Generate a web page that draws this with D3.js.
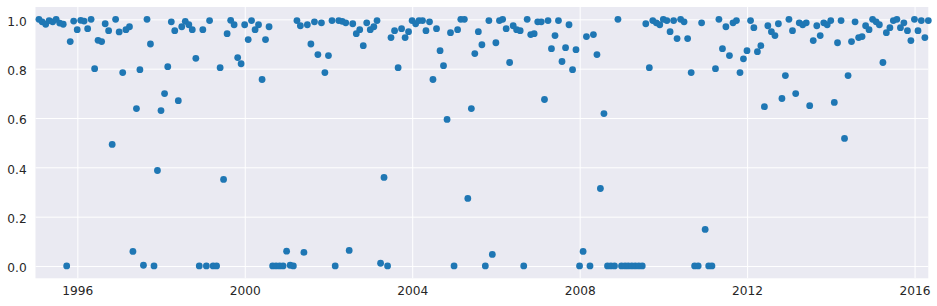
<!DOCTYPE html>
<html>
<head>
<meta charset="utf-8">
<script src="https://cdn.jsdelivr.net/npm/d3@7"></script>
<style>
  body { margin: 0; background: #fff; }
  text { font-family: "DejaVu Sans", sans-serif; font-size: 12.2px; fill: #262626; }
</style>
</head>
<body>
<script>
// monthly values, Jan 1995 .. Apr 2016 (month-end)
var values = [
  1.0, 0.99, 0.98, 0.995, 0.99, 1.0, 0.985, 0.98, 0.0, 0.91,
  0.993, 0.958, 0.996, 0.993, 0.962, 1.0, 0.80, 0.915, 0.91, 0.982,
  0.954, 0.493, 1.0, 0.949, 0.784, 0.958, 0.97, 0.059, 0.638, 0.796,
  0.003, 1.0, 0.90, 0.0, 0.387, 0.63, 0.699, 0.808, 0.99, 0.954,
  0.67, 0.97, 0.992, 0.978, 0.958, 0.842, 0.0, 0.958, 0.0, 0.995,
  0.0, 0.0, 0.804, 0.351, 0.942, 0.996, 0.978, 0.845, 0.82, 0.978,
  0.918, 0.995, 0.958, 0.978, 0.756, 0.918, 0.97, 0.0, 0.0, 0.0,
  0.0, 0.06, 0.003, 0.0, 0.995, 0.974, 0.055, 0.978, 0.90, 0.99,
  0.857, 0.986, 0.784, 0.853, 0.995, 0.0, 0.995, 0.992, 0.986, 0.063,
  0.982, 0.942, 0.958, 0.893, 0.986, 0.958, 0.97, 0.995, 0.011, 0.359,
  0.0, 0.926, 0.954, 0.804, 0.962, 0.926, 0.95, 0.995, 0.982, 0.995,
  0.995, 0.954, 0.99, 0.756, 0.962, 0.873, 0.812, 0.594, 0.946, 0.0,
  0.958, 1.0, 1.0, 0.274, 0.638, 0.861, 0.95, 0.897, 0.0, 0.995,
  0.047, 0.905, 0.995, 1.0, 0.962, 0.825, 0.974, 0.958, 0.954, 0.0,
  1.0, 0.938, 0.942, 0.99, 0.99, 0.675, 0.995, 0.881, 0.934, 0.995,
  0.829, 0.885, 0.978, 0.796, 0.877, 0.0, 0.059, 0.93, 0.0, 0.938,
  0.857, 0.314, 0.618, 0.0, 0.0, 0.0, 1.0, 0.0, 0.0, 0.0,
  0.0, 0.0, 0.0, 0.0, 0.982, 0.804, 0.995, 0.986, 0.978, 1.0,
  0.995, 0.95, 0.995, 0.922, 1.0, 0.99, 0.922, 0.784, 0.0, 0.0,
  0.986, 0.148, 0.0, 0.0, 0.80, 1.0, 0.881, 0.97, 0.853, 0.986,
  0.995, 0.784, 0.84, 0.873, 0.995, 0.966, 0.869, 0.893, 0.646, 0.974,
  0.95, 0.934, 0.982, 0.679, 0.772, 1.0, 0.954, 0.699, 0.986, 0.978,
  0.986, 0.65, 0.914, 0.974, 0.934, 0.986, 0.978, 0.995, 0.663, 0.905,
  0.995, 0.517, 0.772, 0.91, 0.99, 0.926, 0.93, 0.974, 0.958, 1.0,
  0.99, 0.978, 0.825, 0.946, 0.966, 0.995, 1.0, 0.966, 0.986, 0.954,
  0.914, 1.0, 0.954, 0.995, 0.926, 0.995
];

// month-end dates for each value
var dates = d3.utcMonth.range(new Date(Date.UTC(1995, 1, 1)), new Date(Date.UTC(2016, 5, 1)))
  .map(function(d){ return d3.utcDay.offset(d, -1) });

var xDomain = [new Date(Date.UTC(1995, 0, 1)), new Date(Date.UTC(2016, 3, 30))];
var yTicks = [0, 0.2, 0.4, 0.6, 0.8, 1.0];

var width = 937,
    height = 306,
    margin = {top: 7, right: 8.7, bottom: 27.7, left: 35.5};

var w = width - margin.left - margin.right,
    h = height - margin.top - margin.bottom;

var x = d3.scaleUtc().domain(xDomain).range([0, w]);
var y = d3.scaleLinear().domain([-0.05, 1.05]).range([h, 0]);

var svg = d3.select("body").append("svg")
    .attr("width", width)
    .attr("height", height)
  .append("g")
    .attr("transform", "translate(" + margin.left + "," + margin.top + ")");

svg.append("rect")
  .attr("width", w)
  .attr("height", h)
  .attr("fill", "#eaeaf2");

// grid + labels via axes
var xAxis = svg.append("g")
  .attr("transform", "translate(0," + h + ")")
  .call(d3.axisBottom(x).ticks(d3.utcYear.every(4)).tickFormat(d3.utcFormat("%Y")).tickSize(-h).tickPadding(17.4 - 9));

var yAxis = svg.append("g")
  .call(d3.axisLeft(y).tickValues(yTicks).tickFormat(d3.format(".1f")).tickSize(-w).tickPadding(8.8));

[xAxis, yAxis].forEach(function(a){
  a.select(".domain").remove();
  a.selectAll(".tick line").attr("stroke", "#fff").attr("stroke-width", 1);
  a.selectAll(".tick text").attr("fill", "#262626")
    .style("font-family", "DejaVu Sans").style("font-size", "12.2px");
});
yAxis.selectAll(".tick text").attr("dy", "6px");
xAxis.selectAll(".tick text").attr("dy", "0.71em");

svg.append("g")
  .selectAll("circle")
  .data(values)
  .enter().append("circle")
  .attr("cx", function(d, i){ return x(dates[i]) })
  .attr("cy", function(d){ return y(d) })
  .attr("r", 3.4)
  .attr("fill", "#1f77b4");
</script>
</body>
</html>
